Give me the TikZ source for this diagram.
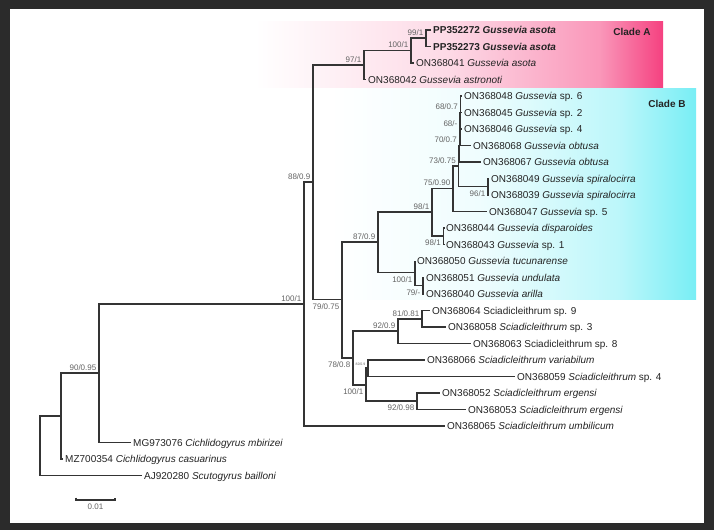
\documentclass[tikz,border=0pt]{standalone}
\usepackage{fontspec}
\setmainfont{Liberation Sans}
\usepackage{tikz}
\usetikzlibrary{calc}

\definecolor{framec}{RGB}{43,43,43}
\definecolor{linec}{RGB}{52,52,52}
\definecolor{textc}{RGB}{35,35,35}
\definecolor{labc}{RGB}{100,100,100}
\definecolor{pinkA}{RGB}{245,65,128}
\definecolor{cyanB}{RGB}{120,238,245}

\newcommand{\gus}{\textit{Gussevia}}
\newcommand{\sci}{\textit{Sciadicleithrum}}

\begin{document}
\begin{tikzpicture}[x=1pt, y=-1pt]
        \tikzstyle{leaf}=[anchor=west, inner sep=2pt, text=textc, font=\fontsize{10}{12}\selectfont, text height=7pt, text depth=0pt];
        \tikzstyle{bs}=[inner sep=1pt, text=labc, font=\fontsize{8}{9}\selectfont, text height=5.8pt, text depth=0pt];
        \tikzstyle{bup}=[bs, anchor=south east, xshift=-1.5pt, yshift=1.7pt];
        \tikzstyle{bdn}=[bs, anchor=north east, xshift=-1.5pt, yshift=-2.8pt];
        \tikzstyle{br}=[draw=linec, line width=1.2pt, to path={|- (\tikztotarget)}];
        \tikzstyle{clade}=[text=textc, font=\fontsize{10}{12}\selectfont\bfseries];

        \useasboundingbox (0,0) rectangle (714,530);
        \fill[framec] (0,0) rectangle (714,530);
        \fill[white] (10,9) rectangle (704,523);

        % clade boxes
        \shade[left color=white, right color=pinkA!20] (255,21) rectangle (450.5,87);
        \shade[left color=pinkA!20, right color=pinkA!55] (450,21) rectangle (600.5,87);
        \shade[left color=pinkA!55, right color=pinkA] (600,21) rectangle (663,87);
        \shade[left color=white, right color=cyanB!12] (330,88) rectangle (480.5,299);
        \shade[left color=cyanB!12, right color=cyanB!50] (480,88) rectangle (620.5,299);
        \shade[left color=cyanB!50, right color=cyanB] (620,88) rectangle (696,299);
        \node[clade] (cA) at (632,32) {Clade A};
        \node[clade] (cB) at (667,104) {Clade B};

        \coordinate (r) at (40,446);
        \coordinate (ncas) at (61,416);
        \coordinate (n90) at (99,373);
        \coordinate (nin) at (304,304);
        \coordinate (n88) at (313,182);
        \coordinate (n97) at (364,65);
        \coordinate (n100a) at (411,50.5);
        \coordinate (n99) at (426,38);
        \coordinate (n79b) at (342,299.5);
        \coordinate (n87) at (378,242);
        \coordinate (n98) at (432,212);
        \coordinate (n75) at (453,188.5);
        \coordinate (n73) at (458.5,166);
        \coordinate (n70) at (459.5,145.5);
        \coordinate (n68b) at (460,129);
        \coordinate (n68a) at (460.5,112.5);
        \coordinate (n96) at (488,186.75);
        \coordinate (n98b) at (443.5,236);
        \coordinate (n100c) at (415,272.5);
        \coordinate (n79) at (423,285.5);
        \coordinate (n78) at (353,358);
        \coordinate (n92) at (398,331);
        \coordinate (n81) at (422,319);
        \coordinate (n100b) at (366,385);
        \coordinate (n82) at (368,368);
        \coordinate (n92b) at (417,401);

        \node[leaf] (l272) at (431,30) {\textbf{PP352272 \gus\ \textit{asota}}};
        \node[leaf] (l273) at (431,46.5) {\textbf{PP352273 \gus\ \textit{asota}}};
        \node[leaf] (l041) at (414,63) {ON368041 \gus\ \textit{asota}};
        \node[leaf] (l042) at (366,79.5) {ON368042 \gus\ \textit{astronoti}};
        \node[leaf] (lsp6) at (462,96) {ON368048 \gus\ sp. 6};
        \node[leaf] (lsp2) at (462,112.5) {ON368045 \gus\ sp. 2};
        \node[leaf] (lsp4) at (462,129) {ON368046 \gus\ sp. 4};
        \node[leaf] (l068) at (471,145.5) {ON368068 \gus\ \textit{obtusa}};
        \node[leaf] (l067) at (481,162) {ON368067 \gus\ \textit{obtusa}};
        \node[leaf] (l049) at (489,178.5) {ON368049 \gus\ \textit{spiralocirra}};
        \node[leaf] (l039) at (489,195) {ON368039 \gus\ \textit{spiralocirra}};
        \node[leaf] (lsp5) at (487,211.5) {ON368047 \gus\ sp. 5};
        \node[leaf] (l044) at (444,228) {ON368044 \gus\ \textit{disparoides}};
        \node[leaf] (l043) at (444,244.5) {ON368043 \gus\ sp. 1};
        \node[leaf] (l050) at (415,261) {ON368050 \gus\ \textit{tucunarense}};
        \node[leaf] (l051) at (424,277.5) {ON368051 \gus\ \textit{undulata}};
        \node[leaf] (l040) at (424,294) {ON368040 \gus\ \textit{arilla}};
        \node[leaf] (lsp9) at (430,310.5) {ON368064 Sciadicleithrum sp. 9};
        \node[leaf] (lsp3) at (446,327) {ON368058 \sci\ sp. 3};
        \node[leaf] (lsp8) at (471,343.5) {ON368063 Sciadicleithrum sp. 8};
        \node[leaf] (lvar) at (425,360) {ON368066 \sci\ \textit{variabilum}};
        \node[leaf] (lsp4s) at (515,376.5) {ON368059 \sci\ sp. 4};
        \node[leaf] (l052) at (440,393) {ON368052 \sci\ \textit{ergensi}};
        \node[leaf] (l053) at (466,409.5) {ON368053 \sci\ \textit{ergensi}};
        \node[leaf] (lumb) at (445,426) {ON368065 \sci\ \textit{umbilicum}};
        \node[leaf] (lmbi) at (131,442.5) {MG973076 \textit{Cichlidogyrus mbirizei}};
        \node[leaf] (lcas) at (63,459) {MZ700354 \textit{Cichlidogyrus casuarinus}};
        \node[leaf] (lbai) at (142,475.5) {AJ920280 \textit{Scutogyrus bailloni}};

        \path
        (r) edge[br] (ncas) edge[br] (lbai)
        (ncas) edge[br] (n90) edge[br] (lcas)
        (n90) edge[br] (nin) edge[br] (lmbi)
        (nin) edge[br] (n88) edge[br] (lumb)
        (n88) edge[br] (n97) edge[br] (n79b)
        (n97) edge[br] (n100a) edge[br] (l042)
        (n100a) edge[br] (n99) edge[br] (l041)
        (n99) edge[br] (l272) edge[br] (l273)
        (n79b) edge[br] (n87) edge[br] (n78)
        (n87) edge[br] (n98) edge[br] (n100c)
        (n98) edge[br] (n75) edge[br] (n98b)
        (n75) edge[br] (n73) edge[br] (lsp5)
        (n73) edge[br] (n70) edge[br] (n96)
        (n70) edge[br] (n68b) edge[br] (l067)
        (n68b) edge[br] (n68a) edge[br] (l068)
        (n68a) edge[br] (lsp6) edge[br] (lsp2) edge[br] (lsp4)
        (n96) edge[br] (l049) edge[br] (l039)
        (n98b) edge[br] (l044) edge[br] (l043)
        (n100c) edge[br] (l050) edge[br] (n79)
        (n79) edge[br] (l051) edge[br] (l040)
        (n78) edge[br] (n92) edge[br] (n100b)
        (n92) edge[br] (n81) edge[br] (lsp8)
        (n81) edge[br] (lsp9) edge[br] (lsp3)
        (n100b) edge[br] (n82) edge[br] (n92b)
        (n82) edge[br] (lvar) edge[br] (lsp4s)
        (n92b) edge[br] (l052) edge[br] (l053);

        % support values
        \node[bup] (b99) at (n99) {99/1};
        \node[bup] (b100a) at (n100a) {100/1};
        \node[bup] (b97) at (n97) {97/1};
        \node[bup] (b88) at (n88) {88/0.9};
        \node[bup] (b100i) at (nin) {100/1};
        \node[bup] (b90) at (n90) {90/0.95};
        \node[bdn] (b79b) at (n79b) {79/0.75};
        \node[bup] (b87) at (n87) {87/0.9};
        \node[bup] (b98) at (n98) {98/1};
        \node[bup] (b75) at (n75) {75/0.90};
        \node[bup] (b73) at (n73) {73/0.75};
        \node[bup] (b70) at (n70) {70/0.7};
        \node[bup] (b68b) at (n68b) {68/-};
        \node[bup] (b68a) at (n68a) {68/0.7};
        \node[bdn] (b96) at (n96) {96/1};
        \node[bdn] (b98b) at (n98b) {98/1};
        \node[bdn] (b100c) at (n100c) {100/1};
        \node[bdn] (b79) at (n79) {79/-};
        \node[bup] (b81) at (n81) {81/0.81};
        \node[bup] (b92) at (n92) {92/0.9};
        \node[bdn] (b78) at (n78) {78/0.8};
        \node[bup, font=\fontsize{3.5}{4}\selectfont, text height=2.6pt] (b82) at (n82) {82/0.9};
        \node[bdn] (b100b) at (n100b) {100/1};
        \node[bdn] (b92b) at (n92b) {92/0.98};

        % scale bar
        \coordinate (sb1) at (76,499);
        \coordinate (sb2) at (115,499);
        \draw[linec, line width=1.1pt] ([yshift=1.5pt]sb1) -- ([yshift=-1pt]sb1) -- ([yshift=-1pt]sb2) -- ([yshift=1.5pt]sb2);
        \node[bs, below=3pt] (sbl) at ($(sb1)!0.5!(sb2)$) {0.01};
\end{tikzpicture}
\end{document}
